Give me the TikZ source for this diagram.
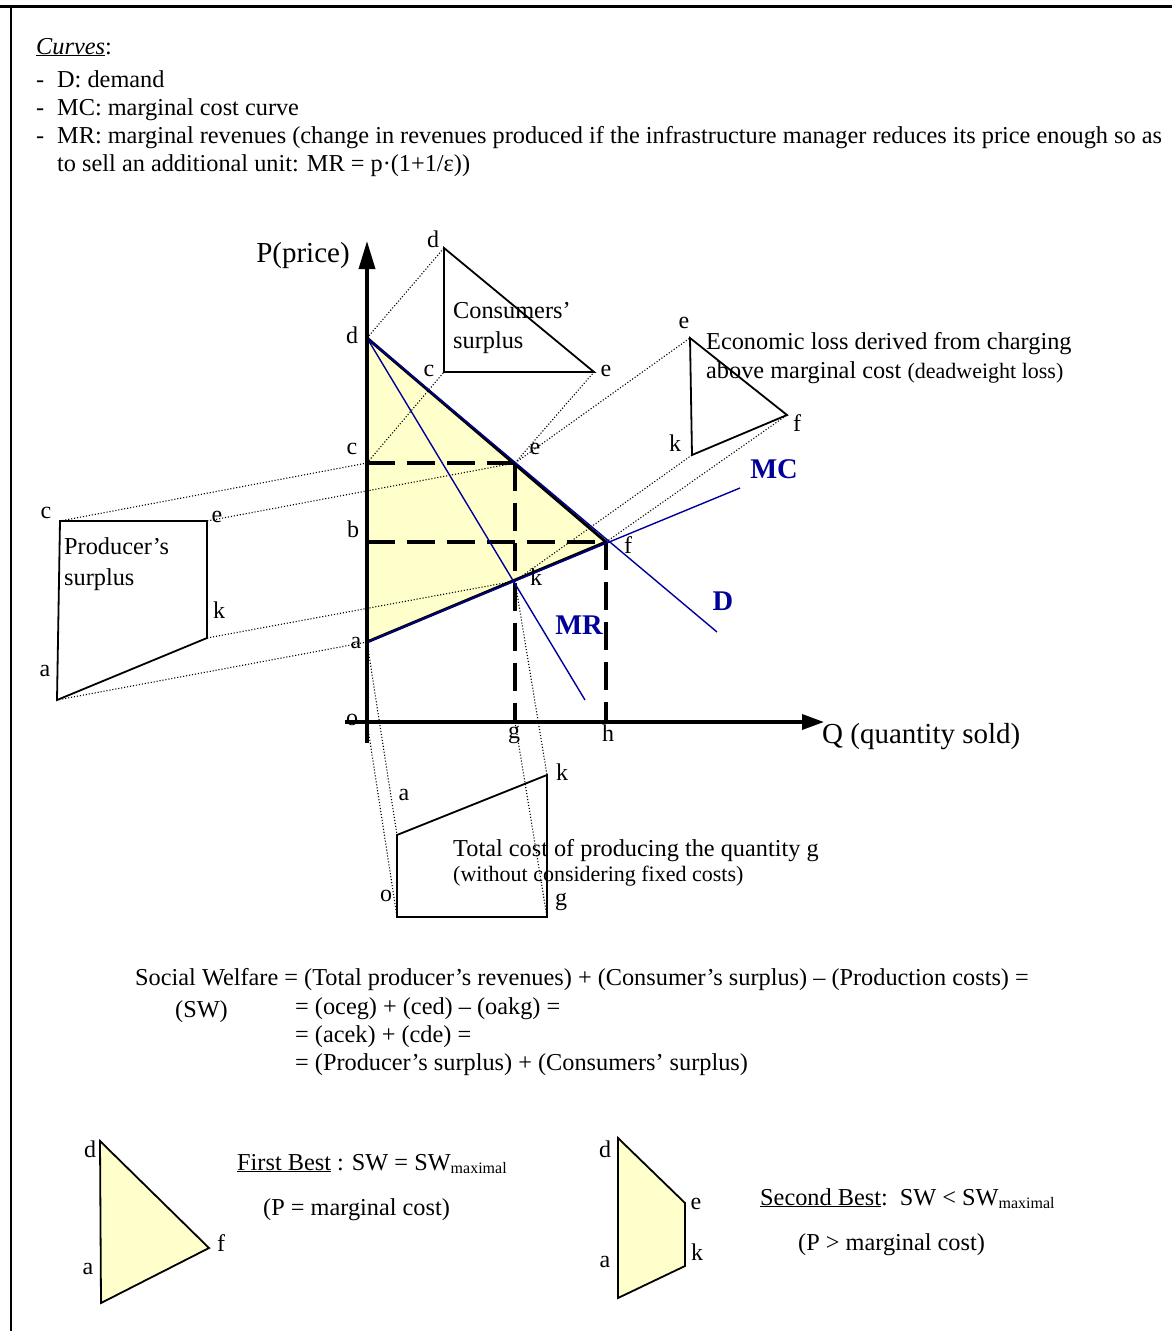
\documentclass[tikz,border=0pt]{standalone}
\usepackage{fontspec}
\setmainfont{Liberation Serif}
\usetikzlibrary{arrows.meta}
\definecolor{fillY}{RGB}{255,255,204}
\definecolor{navy}{RGB}{0,0,153}
\newcommand{\fsz}[1]{\fontsize{#1}{#1}\selectfont}
\begin{document}
\begin{tikzpicture}[x=1pt,y=-1pt,
  lbl/.style={inner sep=0pt,font=\fsz{24}},
  txt/.style={inner sep=0pt,anchor=base west,font=\fsz{24.3}},
  bigtxt/.style={inner sep=0pt,font=\fsz{29}},
  smalltxt/.style={inner sep=0pt,anchor=base west,font=\fsz{22}},
  curve/.style={navy,line width=1.4pt},
  curvelbl/.style={inner sep=0pt,font=\fsz{28.5}\bfseries,text=navy},
  dotl/.style={line width=1.1pt,dash pattern=on 1.1pt off 1.9pt},
  dashl/.style={line width=3.5pt,dash pattern=on 28pt off 12pt},
  shp/.style={line width=1.8pt,line join=miter},
  axis/.style={line width=3.5pt}]
\useasboundingbox (0,0) rectangle (1172,1331);
% frame
\coordinate (fTL) at (0,6); \coordinate (fTR) at (1172,6);
\coordinate (fL1) at (11,6); \coordinate (fL2) at (11,1331);
\draw[line width=3pt] (fTL) -- (fTR);
\draw[line width=2pt] (fL1) -- (fL2);

% curves legend
\node[txt] (curvesT) at (36,54) {\underline{\textit{Curves}}:};
\node[txt] (dash1) at (36,87) {-};
\node[txt] (lD) at (57,87) {D: demand};
\node[txt] (dash2) at (36,115) {-};
\node[txt] (lMC) at (57,115) {MC: marginal cost curve};
\node[txt] (dash3) at (36,143) {-};
\node[txt] (lMR) at (57,143) {MR: marginal revenues (change in revenues produced if the infrastructure manager reduces its price enough so as};
\node[txt] (lMR2) at (57,171) {to sell an additional unit: MR = p·(1+1/ε))};

% main points
\coordinate (d) at (367,338);
\coordinate (c) at (367,463);
\coordinate (b) at (367,542);
\coordinate (a) at (367,642);
\coordinate (o) at (367,722);
\coordinate (e) at (515,463);
\coordinate (f) at (606,542);
\coordinate (k) at (515,581);
\coordinate (g) at (515,722);
\coordinate (h) at (606,722);
\coordinate (Dend) at (717,632);
\coordinate (MRend) at (585,700);
\coordinate (MCend) at (740,488);
\coordinate (ybot) at (367,743);
\coordinate (ytop) at (367,241);
\coordinate (xleft) at (345,722);
\coordinate (xright) at (824,722);

% consumers surplus
\coordinate (d1) at (444,248);
\coordinate (c1) at (444,372);
\coordinate (e1) at (594,372);
% deadweight loss
\coordinate (e2) at (690,338);
\coordinate (k2) at (692,455);
\coordinate (f2) at (787,415);
% producer surplus
\coordinate (c3) at (60,521);
\coordinate (e3) at (207,521);
\coordinate (k3) at (207,638);
\coordinate (a3) at (57,700);
% total cost
\coordinate (a4) at (397,835);
\coordinate (k4) at (547,775);
\coordinate (g4) at (547,917);
\coordinate (o4) at (397,917);

% yellow area
\fill[fillY] (d) -- (f) -- (a) -- cycle;

% dotted projections
\draw[dotl] (d) -- (d1);
\draw[dotl] (c) -- (c1);
\draw[dotl] (e) -- (e1);
\draw[dotl] (e) -- (e2);
\draw[dotl] (k) -- (k2);
\draw[dotl] (f) -- (f2);
\draw[dotl] (c) -- (c3);
\draw[dotl] (e) -- (e3);
\draw[dotl] (k) -- (k3);
\draw[dotl] (a) -- (a3);
\draw[dotl] (o) -- (o4);
\draw[dotl] (a) -- (a4);
\draw[dotl] (g) -- (g4);
\draw[dotl] (k) -- (k4);

% dashed
\draw[dashl] (c) -- (e);
\draw[dashl] (e) -- (g);
\draw[dashl] (b) -- (f);
\draw[dashl] (f) -- (h);

% black edges of area
\draw[line width=3pt,line join=miter] (d) -- (f) -- (a);

% blue curves
\draw[curve] (d) -- (Dend);
\draw[curve] (d) -- (MRend);
\draw[curve] (a) -- (MCend);

% axes
\draw[axis,-{Triangle[length=28pt,width=16pt]}] (ybot) -- (ytop);
\draw[axis,-{Triangle[length=22pt,width=15pt]}] (xleft) -- (xright);

% shapes
\draw[shp] (d1) -- (e1) -- (c1) -- cycle;
\draw[shp] (e2) -- (f2) -- (k2) -- cycle;
\draw[shp] (c3) -- (e3) -- (k3) -- (a3) -- cycle;
\draw[shp] (a4) -- (k4) -- (g4) -- (o4) -- cycle;

% axis labels
\node[bigtxt,anchor=base] (Plab) at (303,262) {P(price)};
\node[bigtxt,anchor=base west] (Qlab) at (822,743) {Q (quantity sold)};

% point labels main
\node[lbl] (ld) at (352,335) {d};
\node[lbl] (lc) at (352,449) {c};
\node[lbl] (lb) at (353,529) {b};
\node[lbl] (la) at (356,643) {a};
\node[lbl] (lo) at (352,720) {o};
\node[lbl] (le) at (535,449) {e};
\node[lbl] (lf) at (628,545) {f};
\node[lbl] (lk) at (536,577) {k};
\node[lbl] (lg) at (514,735) {g};
\node[lbl] (lh) at (608,733) {h};

\node[curvelbl] (MClab) at (774,469) {MC};
\node[curvelbl] (Dlab) at (723,601) {D};
\node[curvelbl] (MRlab) at (579,625) {MR};

% consumers surplus labels
\node[lbl] (ld1) at (433,239) {d};
\node[lbl] (lc1) at (429,371) {c};
\node[lbl] (le1) at (606,371) {e};
\node[txt] (cs1) at (453,318) {Consumers’};
\node[txt] (cs2) at (453,348) {surplus};

% deadweight
\node[lbl] (le2) at (684,323) {e};
\node[lbl] (lk2) at (675,443) {k};
\node[lbl] (lf2) at (797,423) {f};
\node[txt] (dw1) at (706,349) {Economic loss derived from charging};
\node[txt] (dw2) at (706,378) {above marginal cost {\fsz{22}(deadweight loss)}};

% producer surplus
\node[lbl] (lc3) at (46,513) {c};
\node[lbl] (le3) at (217,517) {e};
\node[lbl] (lk3) at (219,610) {k};
\node[lbl] (la3) at (45,671) {a};
\node[txt] (ps1) at (64,554) {Producer’s};
\node[txt] (ps2) at (64,585) {surplus};

% total cost
\node[lbl] (la4) at (404,795) {a};
\node[lbl] (lk4) at (562,772) {k};
\node[lbl] (lo4) at (386,896) {o};
\node[lbl] (lg4) at (561,902) {g};
\node[txt] (tc1) at (453,856) {Total cost of producing the quantity g};
\node[smalltxt] (tc2) at (453,881) {(without considering fixed costs)};

% welfare
\node[txt] (sw1) at (135,985) {Social Welfare = (Total producer’s revenues) + (Consumer’s surplus) – (Production costs) =};
\node[txt] (sw0) at (175,1017) {(SW)};
\node[txt] (sw2) at (295,1014) {= (oceg) + (ced) – (oakg) =};
\node[txt] (sw3) at (295,1042) {= (acek) + (cde) =};
\node[txt] (sw4) at (295,1070) {= (Producer’s surplus) + (Consumers’ surplus)};

% first best
\coordinate (d5) at (100,1141);
\coordinate (f5) at (209,1248);
\coordinate (a5) at (101,1303);
\filldraw[fill=fillY,shp] (d5) -- (f5) -- (a5) -- cycle;
\node[lbl] (ld5) at (90,1149) {d};
\node[lbl] (lf5) at (221,1243) {f};
\node[lbl] (la5) at (88,1269) {a};
\node[txt] (fb1) at (237,1170) {\underline{First Best} : SW = SW\raisebox{-3pt}{\fsz{16}maximal}};
\node[txt] (fb2) at (263,1215) {(P = marginal cost)};

% second best
\coordinate (d6) at (618,1138);
\coordinate (e6) at (685,1203);
\coordinate (k6) at (685,1266);
\coordinate (a6) at (618,1298);
\filldraw[fill=fillY,shp] (d6) -- (e6) -- (k6) -- (a6) -- cycle;
\node[lbl] (ld6) at (605,1149) {d};
\node[lbl] (le6) at (696,1204) {e};
\node[lbl] (lk6) at (697,1252) {k};
\node[lbl] (la6) at (605,1262) {a};
\node[txt] (sb1) at (760,1205) {\underline{Second Best}:\ \ SW < SW\raisebox{-3pt}{\fsz{16}maximal}};
\node[txt] (sb2) at (798,1250) {(P > marginal cost)};
\end{tikzpicture}
\end{document}
